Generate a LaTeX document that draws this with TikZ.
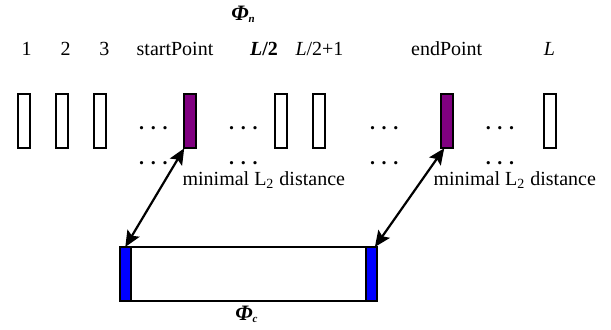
\documentclass[tikz,border=0pt]{standalone}
\usepackage{fontspec}
\setmainfont{Liberation Serif}
\usetikzlibrary{arrows.meta}
\definecolor{barpurple}{RGB}{128,0,128}
\definecolor{stripblue}{RGB}{0,0,255}
\newcommand{\phisym}[1]{{\fontsize{11}{13}\selectfont\textbf{\textit{Φ}}}\raisebox{-1.2pt}{\fontsize{5.5}{6}\selectfont\textbf{\textit{#1}}}}
\begin{document}
\begin{tikzpicture}[x=0.5pt,y=-0.5pt,
  every node/.style={inner sep=0pt,outer sep=0pt},
  txt/.style={anchor=base,font=\fontsize{10}{12}\selectfont},
  dotsx/.style={txt,font=\fontsize{10}{12}\selectfont\bfseries},
  bar/.style={draw=black,line width=1pt,fill=white,minimum width=6pt,minimum height=27.3pt},
  selbar/.style={bar,fill=barpurple},
  bigbox/.style={draw=black,line width=1pt,fill=white,minimum width=128.35pt,minimum height=26.85pt},
  strip/.style={draw=black,line width=1pt,fill=stripblue,minimum width=5.5pt,minimum height=26.85pt},
  link/.style={line width=1.1pt,{Stealth[length=8pt,width=7pt,inset=1.5pt]}-{Stealth[length=8pt,width=7pt,inset=1.5pt]}}]
\useasboundingbox (0,0) rectangle (611,329);
% header
\node[txt] (phin) at (243,20) {\phisym{n}};
\node[txt] (l1) at (26.7,55) {1};
\node[txt] (l2) at (65.7,55) {2};
\node[txt] (l3) at (104.3,55) {3};
\node[txt] (lsp) at (175,55) {startPoint};
\node[txt] (lh) at (264,55) {\textbf{\textit{L}/2}};
\node[txt] (lh1) at (319.5,55) {\textit{L}/2+1};
\node[txt] (lep) at (446.7,55) {endPoint};
\node[txt] (lL) at (549.5,55) {\textit{L}};
% bars
\node[bar] (b1) at (23.7,121) {};
\node[bar] (b2) at (61.7,121) {};
\node[bar] (b3) at (100.3,121) {};
\node[selbar] (p1) at (190.2,121) {};
\node[bar] (b5) at (280.7,121) {};
\node[bar] (b6) at (318.7,121) {};
\node[selbar] (p2) at (447.2,121) {};
\node[bar] (bL) at (549.5,121) {};
% dots
\node[dotsx] (d1) at (153.4,129.5) {. . .};
\node[dotsx] (d2) at (243.4,129.5) {. . .};
\node[dotsx] (d3) at (384.2,129.5) {. . .};
\node[dotsx] (d4) at (500,129.5) {. . .};
\node[dotsx] (e1) at (153.4,164.5) {. . .};
\node[dotsx] (e2) at (243.4,164.5) {. . .};
\node[dotsx] (e3) at (384.2,164.5) {. . .};
\node[dotsx] (e4) at (500,164.5) {. . .};
% distance labels
\node[txt] (m1) at (263.8,185) {minimal L\textsubscript{2} distance};
\node[txt] (m2) at (514.7,185) {minimal L\textsubscript{2} distance};
% bottom box
\node[bigbox] (box) at (248.3,273.8) {};
\node[strip] (ls) at (125.3,273.8) {};
\node[strip] (rs) at (371.3,273.8) {};
\node[txt] (phic) at (246.5,320) {\phisym{c}};
% arrows
\draw[link] (p1.south west) -- (ls.north);
\draw[link] ([xshift=1.5pt]p2.south west) -- ([xshift=1.8pt]rs.north);
\end{tikzpicture}
\end{document}
